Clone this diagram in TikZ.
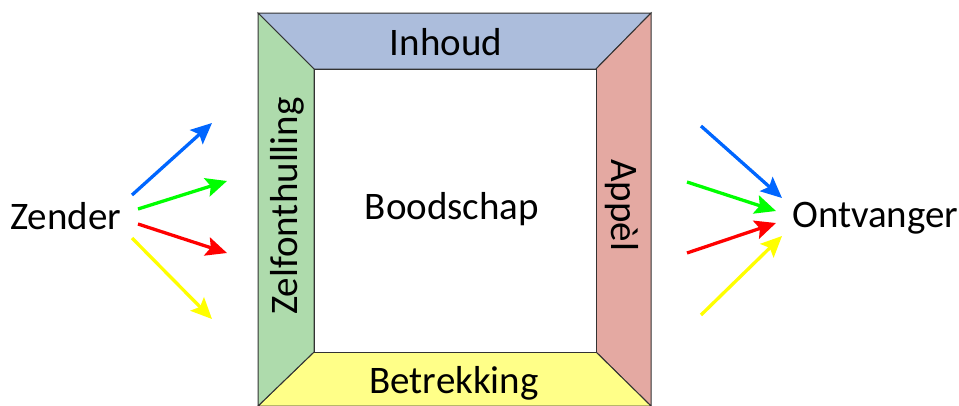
\documentclass[tikz,border=0pt]{standalone}
\usepackage{fontspec}
\setmainfont{Carlito}
\usetikzlibrary{arrows.meta}
\definecolor{pblue}{RGB}{172,189,220}
\definecolor{pgreen}{RGB}{174,219,172}
\definecolor{pred}{RGB}{228,169,162}
\definecolor{pyellow}{RGB}{255,255,136}
\definecolor{ablue}{RGB}{0,102,255}
\definecolor{agreen}{RGB}{0,255,0}
\definecolor{ared}{RGB}{255,0,0}
\definecolor{ayellow}{RGB}{255,255,0}
\tikzset{
  panel/.style={draw=black!80, line width=1pt, line join=miter},
  lbl/.style={font=\fontsize{39}{46}\selectfont, inner sep=0pt, text=black},
  arr/.style={line width=3.3pt, -{Stealth[length=21pt,width=19pt,inset=4pt]}}
}
\begin{document}
\begin{tikzpicture}[x=1pt,y=-1pt]
\useasboundingbox (0,0) rectangle (959,405);
\clip (0,0) rectangle (959,405);
% frame corners
\coordinate (o1) at (258,13);
\coordinate (o2) at (651,13);
\coordinate (o3) at (651,406);
\coordinate (o4) at (258,406);
\coordinate (i1) at (314,69);
\coordinate (i2) at (596,69);
\coordinate (i3) at (596,352);
\coordinate (i4) at (314,352);
\filldraw[panel, fill=pblue] (o1) -- (o2) -- (i2) -- (i1) -- cycle;
\filldraw[panel, fill=pred] (o2) -- (o3) -- (i3) -- (i2) -- cycle;
\filldraw[panel, fill=pyellow] (o3) -- (o4) -- (i4) -- (i3) -- cycle;
\filldraw[panel, fill=pgreen] (o4) -- (o1) -- (i1) -- (i4) -- cycle;
\draw[panel, fill=white] (i1) rectangle (i3);
% labels
\node[lbl] (inhoud) at (446,42) {Inhoud};
\node[lbl] (betrek) at (454,383) {Betrekking};
\node[lbl, rotate=90] (zelf) at (287,206) {Zelfonthulling};
\node[lbl, rotate=-90] (appel) at (622,205) {Appèl};
\node[lbl] (bood) at (452,209) {Boodschap};
\node[lbl, anchor=west] (zender) at (10,216) {Zender};
\node[lbl, anchor=west] (ontv) at (792,218) {Ontvanger};
% left arrows
\coordinate (lb0) at (132,195); \coordinate (lb1) at (212,123);
\coordinate (lg0) at (138,209); \coordinate (lg1) at (227,181);
\coordinate (lr0) at (138,224); \coordinate (lr1) at (227,253);
\coordinate (ly0) at (132,238); \coordinate (ly1) at (212,319);
\draw[arr, ablue] (lb0) -- (lb1);
\draw[arr, agreen] (lg0) -- (lg1);
\draw[arr, ared] (lr0) -- (lr1);
\draw[arr, ayellow] (ly0) -- (ly1);
% right arrows
\coordinate (rb0) at (701,126); \coordinate (rb1) at (782,198);
\coordinate (rg0) at (687,182); \coordinate (rg1) at (776,211);
\coordinate (rr0) at (687,253); \coordinate (rr1) at (776,223);
\coordinate (ry0) at (701,315); \coordinate (ry1) at (782,236);
\draw[arr, ablue] (rb0) -- (rb1);
\draw[arr, agreen] (rg0) -- (rg1);
\draw[arr, ared] (rr0) -- (rr1);
\draw[arr, ayellow] (ry0) -- (ry1);
\end{tikzpicture}
\end{document}
